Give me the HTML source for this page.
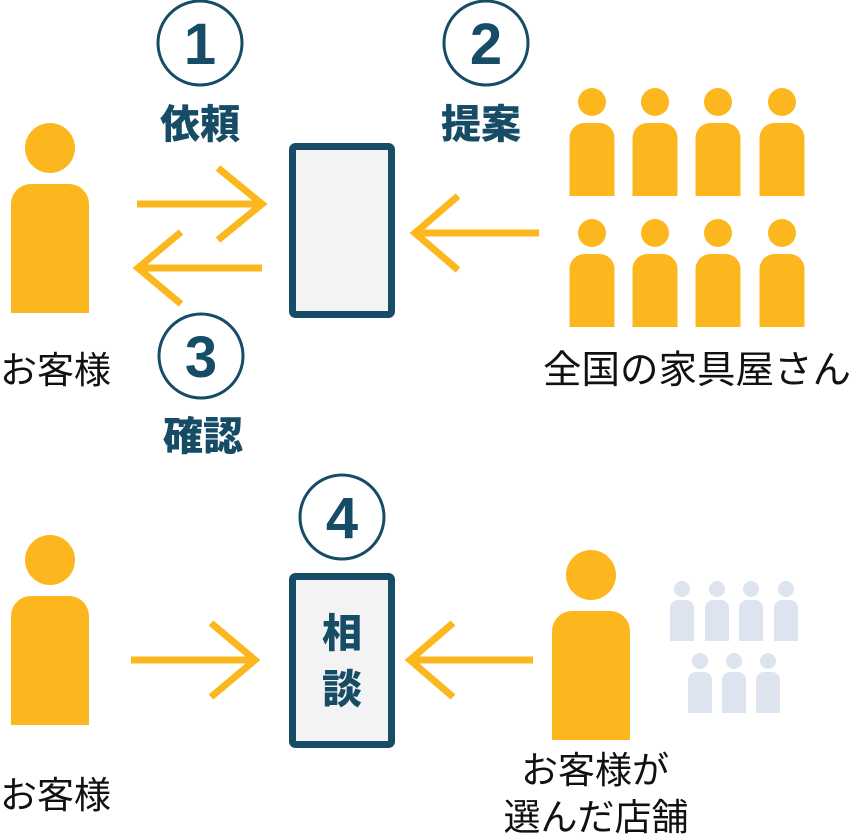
<!DOCTYPE html>
<html><head><meta charset="utf-8"><style>
html,body{margin:0;padding:0;background:#fff;}
svg{display:block;}
.b{font-family:"Liberation Sans","Noto Sans CJK JP",sans-serif;font-weight:900;fill:#164c66;}
.n{font-family:"Liberation Sans","Noto Sans CJK JP",sans-serif;fill:#111;}
</style></head><body>
<svg width="850" height="835" viewBox="0 0 850 835" xmlns="http://www.w3.org/2000/svg">
<defs>
<g id="P"><circle cx="0" cy="-36" r="25"/><path d="M-39,20 a20,20 0 0 1 20,-20 h38 a20,20 0 0 1 20,20 v109 h-78z"/></g>
<g id="M"><circle cx="0" cy="-21" r="14"/><path d="M-22.5,15 a15,15 0 0 1 15,-15 h15 a15,15 0 0 1 15,15 v58 h-45z"/></g>
<g id="S"><circle cx="0" cy="-11" r="8"/><path d="M-12,8 a8,8 0 0 1 8,-8 h8 a8,8 0 0 1 8,8 v33 h-24z"/></g>
</defs>
<g fill="#fdb71e">
<use href="#P" x="50" y="184"/>
<use href="#P" x="50" y="596"/>
<use href="#P" x="591" y="611"/>
<use href="#M" x="592" y="123"/><use href="#M" x="655" y="123"/><use href="#M" x="718" y="123"/><use href="#M" x="782" y="123"/>
<use href="#M" x="592" y="254"/><use href="#M" x="655" y="254"/><use href="#M" x="718" y="254"/><use href="#M" x="782" y="254"/>
</g>
<g fill="#dde4f0">
<use href="#S" x="682" y="600"/><use href="#S" x="717" y="600"/><use href="#S" x="751" y="600"/><use href="#S" x="786" y="600"/>
<use href="#S" x="700" y="672"/><use href="#S" x="734" y="672"/><use href="#S" x="768" y="672"/>
</g>
<g stroke="#fdb71e" stroke-width="7" fill="none">
<path d="M137,204 H260 M218,168 L262,204 L218,240"/>
<path d="M262,268 H140 M181,232 L138,268 L181,304"/>
<path d="M539,233 H417 M458,196 L415,233 L458,270"/>
<path d="M131,660 H254 M211,623 L255,660 L211,697"/>
<path d="M533,660 H412 M453,623 L410,660 L453,697"/>
</g>
<g fill="#f3f3f3" stroke="#164c66" stroke-width="7">
<rect x="292.5" y="146.5" width="99" height="168" rx="3"/>
<rect x="292.5" y="576.5" width="99" height="168" rx="3"/>
</g>
<g fill="none" stroke="#164c66" stroke-width="3">
<circle cx="200" cy="43" r="42"/><circle cx="486" cy="43" r="42"/>
<circle cx="201" cy="356" r="42"/><circle cx="342" cy="517" r="42"/>
</g>
<g class="b" font-size="58" text-anchor="middle">
<text x="200" y="64">1</text><text x="486" y="64">2</text>
<text x="201" y="377">3</text><text x="342" y="538">4</text>
</g>
<g class="b" font-size="40" text-anchor="middle">
<text x="200" y="138">依頼</text><text x="481" y="138">提案</text>
<text x="203" y="450">確認</text>
<text x="342" y="647">相</text><text x="342" y="703">談</text>
</g>
<g class="n" font-size="37">
<text x="0" y="383">お客様</text>
<text x="0" y="808">お客様</text>
<text x="543" y="383" font-size="38.5">全国の家具屋さん</text>
<text x="595" y="783" text-anchor="middle">お客様が</text>
<text x="596" y="830" text-anchor="middle">選んだ店舗</text>
</g>
</svg>
</body></html>
